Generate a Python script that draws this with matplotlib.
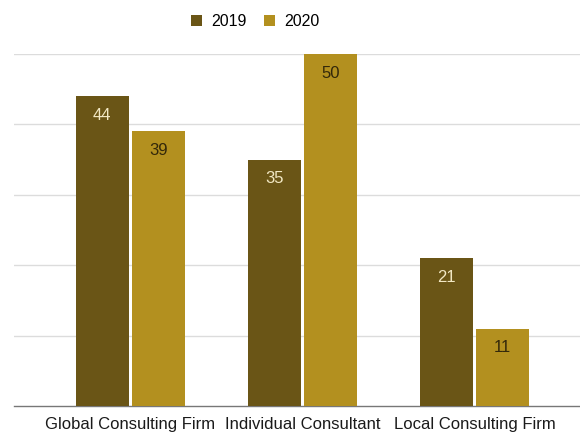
import matplotlib
matplotlib.use("Agg")
import matplotlib.pyplot as plt
import numpy as np

categories = ["Global Consulting Firm", "Individual Consultant", "Local Consulting Firm"]
years = ["2019", "2020"]
values_2019 = [44, 35, 21]
values_2020 = [39, 50, 11]

colors = ["#6a5516", "#b3901f"]
label_colors = ["#f2e8c4", "#33280a"]

plt.rcParams["font.family"] = ["Liberation Sans", "DejaVu Sans"]

fig = plt.figure(figsize=(5.8, 4.34), dpi=100)
ax = fig.add_axes([0.024, 0.0645, 0.976, 0.8111])

x = np.arange(len(categories))
w = 0.308
gap = 0.009
for i, (vals, year) in enumerate(zip([values_2019, values_2020], years)):
    offs = (i - 0.5) * (w + gap * 2)
    bars = ax.bar(x + offs, vals, width=w, color=colors[i], label=year, zorder=3)
    for b, v in zip(bars, vals):
        ax.text(b.get_x() + b.get_width() / 2, v - 2.75, str(v), ha="center", va="center",
                fontsize=12, color=label_colors[i], zorder=4)

ax.set_xlim(-0.677, 2.613)
ax.set_ylim(0, 50)
ax.set_yticks([10, 20, 30, 40, 50])
ax.yaxis.grid(True, color="#dcdcdc", linewidth=1)
ax.tick_params(axis="y", left=False, labelleft=False)
ax.tick_params(axis="x", length=0, labelsize=12, colors="#1a1a1a", pad=8)
ax.set_xticks(x)
ax.set_xticklabels(categories)
for s in ["top", "right", "left"]:
    ax.spines[s].set_visible(False)
ax.spines["bottom"].set_color("#777777")
ax.spines["bottom"].set_linewidth(1)

fig.legend(loc="upper center", bbox_to_anchor=(0.44, 1.0), ncol=2, frameon=False,
           fontsize=11.5, handlelength=0.7, handleheight=0.7, columnspacing=1.05,
           handletextpad=0.6)

plt.savefig("out.png", dpi=100)
